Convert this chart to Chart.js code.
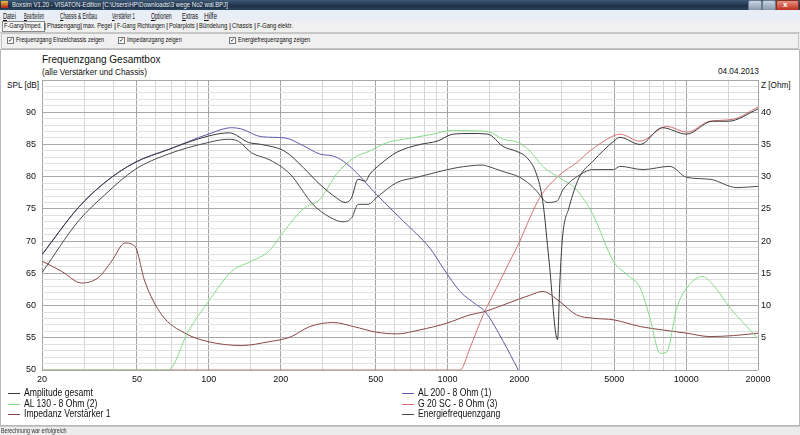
<!DOCTYPE html>
<html>
<head>
<meta charset="utf-8">
<script src="https://cdn.jsdelivr.net/npm/chart.js@4.4.1/dist/chart.umd.min.js"></script>
<style>
  body { margin: 0; width: 800px; height: 435px; overflow: hidden; background: #ecedf0; font-family: "Liberation Sans", Arial, sans-serif; position: relative; }
  .t { position: absolute; white-space: nowrap; transform-origin: 0 50%; color: #111; }
  .titlebar { position: absolute; left: 0; top: 0; width: 800px; height: 10px; background: linear-gradient(#3d5a78, #1d2f44 60%, #2a4460); }
  .menubar { position: absolute; left: 0; top: 10px; width: 800px; height: 11px; background: #e9eef6; }
  .tabs { position: absolute; left: 0; top: 21px; width: 800px; height: 11px; background: #f0f0f0; border-bottom: 1px solid #c8c8c8; }
  .checks { position: absolute; left: 1px; top: 33px; width: 796px; height: 14px; background: #f0f0f0; border: 1px solid #c4c4c4; }
  .panel { position: absolute; left: 0; top: 49px; width: 798px; height: 375px; background: #fff; border: 1px solid #b8b8b8; }
  .status { position: absolute; left: 0; top: 426px; width: 800px; height: 9px; background: #ececec; border-top: 1px solid #c8c8c8; }
  .cb { position: absolute; width: 5px; height: 5px; border: 1px solid #777; background: #fff; font-size: 6px; line-height: 5px; text-align: center; }
  .btn { position: absolute; top: 0; height: 9px; border: 1px solid #6a7c90; border-radius: 2px; }
  canvas { position: absolute; left: 0; top: 50px; }
  .lg { position: absolute; height: 1px; width: 12px; }
</style>
</head>
<body>
<div class="titlebar"></div>
<div style="position:absolute;left:1px;top:1px;width:7px;height:7px;background:linear-gradient(#e8c040,#b02020);"></div>
<div id="wintitle" class="t" style="left:12px;top:0px;font-size:7.5px;line-height:10px;color:#e8eef5">Boxsim V1.20 - VISATON-Edition [C:\Users\HP\Downloads\3 wege No2 wal.BPJ]</div>
<div class="btn" style="left:748px;width:12px;background:linear-gradient(#c8d4e2,#8898ac);"></div>
<div class="btn" style="left:762px;width:12px;background:linear-gradient(#c8d4e2,#8898ac);"></div>
<div class="btn" style="left:776px;width:21px;background:linear-gradient(#e89080,#c03020);border-color:#8a3020;"></div>
<div class="t" style="left:783px;top:0px;font-size:8px;line-height:10px;color:#fff;font-weight:bold">x</div>

<div class="menubar"></div>
<div id="menu"></div>
<div class="tabs"></div>
<div style="position:absolute;left:2px;top:21px;width:41px;height:9px;border:1px solid #8a8a8a;background:#f6f6f6;"></div>
<div id="tabs"></div>
<div class="checks"></div>
<div id="checks"></div>

<div class="panel"></div>
<div class="t" style="left:42px;top:52px;font-size:11.5px;line-height:14px;transform:scaleX(0.87)">Frequenzgang Gesamtbox</div>
<div class="t" style="left:42px;top:66px;font-size:9.5px;line-height:12px;transform:scaleX(0.86)">(alle Verstärker und Chassis)</div>
<div class="t" style="left:718px;top:65px;font-size:9.5px;line-height:12px;transform:scaleX(0.86)">04.04.2013</div>
<div class="t" style="left:7px;top:79px;font-size:9.5px;line-height:12px;transform:scaleX(0.86)">SPL [dB]</div>
<div class="t" style="left:761px;top:79px;font-size:9.5px;line-height:12px;transform:scaleX(0.86)">Z [Ohm]</div>

<canvas id="chart" width="800" height="375"></canvas>
<div id="legend"></div>

<div class="status"></div>
<div id="statustext" class="t" style="left:1px;top:426px;font-size:6.5px;line-height:9px;color:#333">Berechnung war erfolgreich</div>

<script>
// frequency grid of the Boxsim plot
const xGrid = [20, 30, 40, 50, 60, 70, 80, 90, 100, 150, 200, 300, 400, 500, 600, 700, 800, 900,
  1000, 1500, 2000, 3000, 4000, 5000, 6000, 7000, 8000, 9000, 10000, 15000, 20000];
const xLabels = [20, 50, 100, 200, 500, 1000, 2000, 5000, 10000, 20000];
const splLabels = [50, 55, 60, 65, 70, 75, 80, 85, 90];
const zLabels = [5, 10, 15, 20, 25, 30, 35, 40];

// Amplitude gesamt (dB)
const ampFreq = [20, 28.4, 36.7, 49, 67.6, 99.5, 122, 147, 166, 209, 249, 292, 343, 372, 396, 422, 453, 473,
  522, 614, 767, 904, 1055, 1242, 1477, 1708, 1955, 2145, 2360, 2507, 2665, 2890, 2957, 3032, 3230, 3555,
  4070, 4972, 5277, 6422, 7935, 10040, 12870, 15000, 20000];
const ampVal = [67.9, 75.2, 79.1, 82.2, 84.2, 86.3, 86.8, 85.3, 85.0, 83.9, 81.4, 78.8, 76.7, 76.0, 76.7, 79.6, 79.3, 80.4,
  81.9, 83.8, 85.0, 85.5, 86.6, 86.7, 86.6, 84.7, 83.9, 83.0, 80.4, 76.2, 66.9, 54.7, 63.7, 70.5, 75.2, 79.8,
  82.4, 85.5, 86.1, 85.0, 87.6, 86.6, 88.6, 88.6, 90.5];

// AL 200 - 8 Ohm (1)
const al200Freq = [20, 28.4, 36.7, 49, 67.6, 99.5, 124.7, 137, 166, 209, 249, 292, 332, 366, 416, 505, 653,
  844, 960, 1128, 1325, 1435, 1714, 1980];
const al200Val = [67.9, 75.2, 79.1, 82.2, 84.2, 86.6, 87.6, 87.4, 86.2, 86.0, 84.8, 83.5, 83.2, 82.4, 80.6, 77.2, 73.1,
  68.9, 65.8, 62.2, 60.1, 59.1, 54.4, 50.0];

// AL 130 - 8 Ohm (2)
const al130Freq = [20, 67.6, 82, 99.5, 124.7, 151, 178, 209, 249, 292, 343, 404, 473, 559, 653, 844, 1058, 1325,
  1480, 1714, 1980, 2214, 2507, 2957, 3468, 4070, 4972, 5649, 6422, 7060, 7771, 8288, 9133, 10040, 11710,
  13300, 15300, 20000];
const al130Val = [50, 50, 56.0, 60.6, 65.3, 66.9, 68.4, 71.8, 75.0, 76.5, 80.4, 82.9, 84.0, 85.3, 85.8, 86.5, 87.2, 87.1,
  87.0, 85.8, 85.3, 84.0, 81.6, 79.8, 78.0, 74.1, 66.8, 64.8, 62.7, 58.0, 52.6, 52.8, 59.6, 62.7, 64.5,
  62.7, 59.6, 54.9];

// G 20 SC - 8 Ohm (3)
const g20Freq = [20, 1128, 1242, 1413, 1604, 1826, 2010, 2214, 2440, 2957, 3483, 3953, 4934, 5277, 6398, 8296,
  10070, 12570, 15700, 20000];
const g20Val = [50, 50, 53.4, 58.6, 62.7, 66.9, 70.0, 73.6, 76.8, 80.3, 82.2, 84.0, 86.3, 86.6, 85.5, 87.8,
  86.9, 88.6, 88.9, 90.8];

// Impedanz Verstärker 1 (Ohm)
const impFreq = [20, 24.2, 29.3, 34.3, 39.2, 44.5, 49, 54, 63.5, 79.5, 99.5, 137, 180, 219, 265, 332, 404, 505,
  614, 767, 993, 1242, 1435, 1714, 2214, 2507, 2957, 3468, 4070, 4972, 6422, 7935, 10040, 12570, 15800, 20000];
const impVal = [16.9, 15.3, 13.5, 14.3, 16.9, 19.7, 19.2, 13.7, 8.56, 5.7, 4.4, 3.8, 4.41, 5.1, 6.74, 7.37, 6.74, 5.86,
  5.6, 6.23, 7.26, 8.56, 9.07, 10.1, 11.6, 12.2, 10.6, 8.56, 8.04, 7.78, 6.74, 6.23, 5.71, 5.19, 5.34, 5.71];

// Energiefrequenzgang (dB)
const energyFreq = [20, 28.4, 36.7, 49, 67.6, 99.5, 120, 133, 151, 180, 219, 273, 322, 365, 398, 422, 464, 506,
  614, 745, 904, 1097, 1409, 1477, 1708, 2010, 2214, 2373, 2512, 2612, 2874, 3050, 3590, 4066, 4972, 5277,
  6591, 8547, 10040, 12570, 16320, 20000];
const energyVal = [65.1, 73.1, 77.2, 81.1, 83.5, 85.3, 85.8, 85.5, 83.7, 82.6, 80.4, 75.7, 73.7, 73.0, 73.7, 75.7, 75.7, 76.8,
  79.1, 79.9, 80.7, 81.4, 81.8, 81.6, 80.8, 79.9, 78.8, 77.7, 76.5, 76.0, 76.2, 78.0, 80.3, 81.1, 81.1, 81.6,
  81.1, 81.6, 79.9, 79.6, 78.3, 78.5];

const font = '"Liberation Sans", Arial, sans-serif';

function pts(freqs, vals) {
  return freqs.map((f, i) => ({ x: f, y: vals[i] }));
}

function line(label, freqs, vals, color, axis, order) {
  return {
    label: label,
    data: pts(freqs, vals),
    borderColor: color,
    borderWidth: 1,
    pointRadius: 0,
    cubicInterpolationMode: 'monotone',
    yAxisID: axis,
    order: order,
    fill: false
  };
}

// same order as Boxsim's legend, row by row
const datasets = [
  line('Amplitude gesamt', ampFreq, ampVal, '#3a3a3a', 'y', 1),
  line('AL 200 - 8 Ohm (1)', al200Freq, al200Val, '#5a5aa8', 'y', 3),
  line('AL 130 - 8 Ohm (2)', al130Freq, al130Val, '#86dc86', 'y', 4),
  line('G 20 SC - 8 Ohm (3)', g20Freq, g20Val, '#d47070', 'y', 5),
  line('Impedanz Verstärker 1', impFreq, impVal, '#8a4646', 'z', 6),
  line('Energiefrequenzgang', energyFreq, energyVal, '#4a4a4a', 'y', 2)
];

const chart = new Chart(document.getElementById('chart').getContext('2d'), {
  type: 'line',
  data: { datasets: datasets },
  options: {
    responsive: false,
    animation: false,
    events: [],
    layout: { padding: { top: 30, left: 0, right: 0, bottom: 0 } },
    plugins: { legend: { display: false }, tooltip: { enabled: false } },
    scales: {
      x: {
        type: 'logarithmic',
        min: 20,
        max: 20000,
        afterBuildTicks: (scale) => { scale.ticks = xGrid.map(v => ({ value: v })); },
        afterFit: (scale) => { scale.height = 55; },
        border: { display: false },
        grid: {
          drawTicks: false,
          color: (c) => xLabels.includes(c.tick.value) ? '#a4a4a4' : '#d6d6d6'
        },
        ticks: {
          autoSkip: false, maxRotation: 0, minRotation: 0, padding: 4,
          color: '#111', font: { family: font, size: 9 },
          callback: (v) => xLabels.includes(v) ? String(v) : ''
        }
      },
      y: {
        position: 'left',
        min: 50,
        max: 95,
        afterFit: (scale) => { scale.width = 42; },
        border: { display: false },
        grid: {
          drawTicks: false,
          color: (c) => c.tick.value % 5 === 0 ? '#a8a8a8' : '#e0e0e0'
        },
        ticks: {
          stepSize: 1, autoSkip: false, padding: 6,
          color: '#111', font: { family: font, size: 9 },
          callback: (v) => splLabels.includes(v) ? String(v) : ''
        }
      },
      z: {
        position: 'right',
        min: 0,
        max: 45,
        afterFit: (scale) => { scale.width = 42; },
        border: { display: false },
        grid: { display: false, drawTicks: false },
        ticks: {
          stepSize: 5, autoSkip: false, padding: 3,
          color: '#111', font: { family: font, size: 9 },
          callback: (v) => zLabels.includes(v) ? String(v) : ''
        }
      }
    }
  }
});

// legend in two columns like Boxsim
const legend = document.getElementById('legend');
chart.data.datasets.forEach((ds, i) => {
  const col = i % 2, row = Math.floor(i / 2);
  const lx = col === 0 ? 8 : 402;
  const y = 393 + row * 10.5;
  const ln = document.createElement('div');
  ln.className = 'lg';
  ln.style.left = lx + 'px';
  ln.style.top = Math.round(y) + 'px';
  ln.style.background = ds.borderColor;
  legend.appendChild(ln);
  const tx = document.createElement('div');
  tx.className = 't';
  tx.style.left = (lx + 16) + 'px';
  tx.style.top = (y - 6) + 'px';
  tx.style.fontSize = '10px';
  tx.style.lineHeight = '12px';
  tx.style.transform = 'scaleX(0.86)';
  tx.textContent = ds.label;
  legend.appendChild(tx);
});

// squeeze a text to the width it has in the screenshot
function fitWidth(d, w) {
  d.style.transform = 'scaleX(' + (w / d.offsetWidth).toFixed(3) + ')';
}

// window chrome texts: [text, left, width]
const menuItems = [['Datei', 3, 13], ['Bearbeiten', 24, 20], ['Chassis & Einbau', 60, 37], ['Verstärker 1', 112, 23],
  ['Optionen', 151, 21], ['Extras', 182, 16], ['Hilfe', 204, 13]];
const tabItems = [['F-Gang/Imped.', 4, 38], ['Phasengang', 47, 33], ['max. Pegel', 83, 29], ['F-Gang Richtungen', 117, 48],
  ['Polarplots', 169, 26], ['Bündelung', 199, 28], ['Chassis', 232, 20], ['F-Gang elektr.', 257, 36]];
const checkItems = [['Frequenzgang Einzelchassis zeigen', 7, 88], ['Impedanzgang zeigen', 118, 55], ['Energiefrequenzgang zeigen', 229, 72]];

function addText(parent, txt, x, y, size) {
  const d = document.createElement('div');
  d.className = 't';
  d.style.left = x + 'px';
  d.style.top = y + 'px';
  d.style.fontSize = size + 'px';
  d.style.lineHeight = '10px';
  d.innerHTML = txt;
  document.getElementById(parent).appendChild(d);
  return d;
}
menuItems.forEach(m => fitWidth(addText('menu', '<u>' + m[0][0] + '</u>' + m[0].slice(1), m[1], 11, 8.5), m[2]));
tabItems.forEach((t, i) => {
  fitWidth(addText('tabs', t[0], t[1], 21, 8), t[2]);
  if (i > 0) addText('tabs', '|', t[1] - 3, 21, 8);
});
checkItems.forEach(c => {
  const b = document.createElement('div');
  b.className = 'cb';
  b.style.left = c[1] + 'px';
  b.style.top = '37px';
  b.textContent = '✓';
  document.getElementById('checks').appendChild(b);
  fitWidth(addText('checks', c[0], c[1] + 9, 35, 8), c[2]);
});
fitWidth(document.getElementById('wintitle'), 216);
fitWidth(document.getElementById('statustext'), 66);
</script>
</body>
</html>
